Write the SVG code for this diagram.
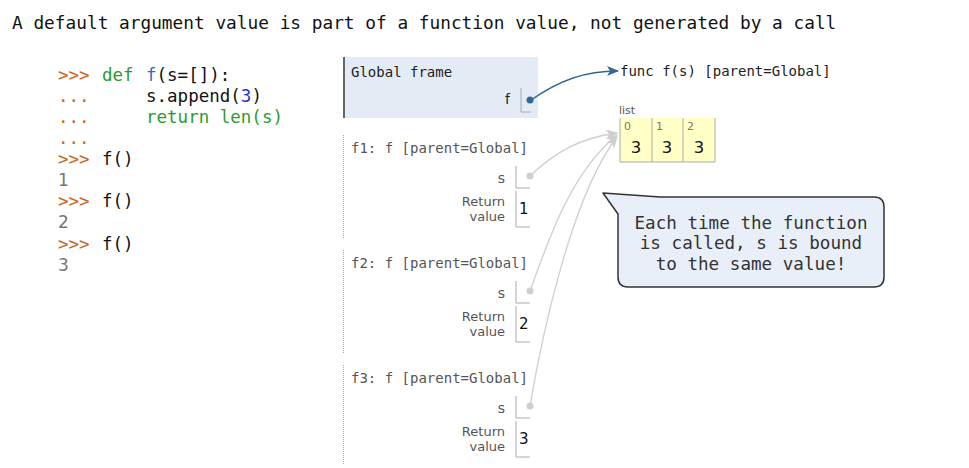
<svg xmlns="http://www.w3.org/2000/svg" width="969" height="468" viewBox="0 0 969 468">
  <style>
    .mono { font-family: "DejaVu Sans Mono", "Liberation Mono", monospace; }
    .sans { font-family: "DejaVu Sans", "Liberation Sans", sans-serif; }
    .title { font-size: 17.8px; fill: #111; }
    .code { font-size: 17.5px; }
    .prompt { fill: #c8651c; }
    .kw { fill: #2d9a2d; }
    .fn { fill: #2a6fc4; }
    .num { fill: #2233dd; }
    .plain { fill: #111; }
    .out { fill: #777; font-family: "DejaVu Sans", "Liberation Sans", sans-serif; font-size: 17px; }
    .flabel { font-size: 14px; fill: #555; }
    .glabel { font-size: 14px; fill: #222; }
    .var { font-size: 14px; fill: #555; text-anchor: end; }
    .ret { font-size: 13px; fill: #555; text-anchor: end; }
    .val { font-size: 15px; fill: #111; }
    .cellbox { stroke: #aaa; stroke-width: 1; fill: none; }
    .dotted { stroke: #aaa; stroke-width: 1; stroke-dasharray: 1 1; }
    .ref { fill: none; stroke: #cfcfcf; stroke-width: 1.3; }
    .note { font-size: 17.6px; fill: #333; text-anchor: middle; }
  </style>
  <defs>
    <marker id="arrowBlue" markerUnits="userSpaceOnUse" markerWidth="12" markerHeight="10" refX="11" refY="5" orient="auto">
      <path d="M0,0 L12,5 L0,10 L3,5 Z" fill="#2f6a96"/>
    </marker>
    <marker id="arrowGray" markerUnits="userSpaceOnUse" markerWidth="12" markerHeight="10" refX="11" refY="5" orient="auto">
      <path d="M0,0 L12,5 L0,10 L3,5 Z" fill="#cfcfcf"/>
    </marker>
  </defs>

  <rect width="969" height="468" fill="#ffffff"/>

  <text class="mono title" x="12" y="29">A default argument value is part of a function value, not generated by a call</text>

  <!-- interactive session -->
  <g id="code" class="mono code">
    <text y="81"><tspan x="58" class="prompt">&gt;&gt;&gt;</tspan><tspan x="102" class="kw">def</tspan><tspan x="146" class="fn">f</tspan><tspan class="plain">(s=[]):</tspan></text>
    <text y="102"><tspan x="58" class="prompt">...</tspan><tspan x="146" class="plain">s.append(</tspan><tspan class="num">3</tspan><tspan class="plain">)</tspan></text>
    <text y="123"><tspan x="58" class="prompt">...</tspan><tspan x="146" class="kw">return len(s)</tspan></text>
    <text y="144"><tspan x="58" class="prompt">...</tspan></text>
    <text y="165"><tspan x="58" class="prompt">&gt;&gt;&gt;</tspan><tspan x="102" class="plain">f()</tspan></text>
    <text y="186" x="58" class="out">1</text>
    <text y="207"><tspan x="58" class="prompt">&gt;&gt;&gt;</tspan><tspan x="102" class="plain">f()</tspan></text>
    <text y="228" x="58" class="out">2</text>
    <text y="250"><tspan x="58" class="prompt">&gt;&gt;&gt;</tspan><tspan x="102" class="plain">f()</tspan></text>
    <text y="271" x="58" class="out">3</text>
  </g>

  <!-- global frame -->
  <g id="global-frame">
    <rect x="343" y="57" width="195" height="61" fill="#e3ebf5"/>
    <line x1="344" y1="57" x2="344" y2="118" stroke="#666" stroke-width="2"/>
    <text class="mono glabel" x="351" y="77">Global frame</text>
    <text class="sans var" x="510" y="104" style="fill:#222">f</text>
    <path d="M521,88 V112 H531" class="cellbox"/>
  </g>

  <!-- function object -->
  <g id="func-f">
    <text class="mono glabel" x="620" y="76">func f(s) [parent=Global]</text>
  </g>

  <!-- list object -->
  <g id="list">
    <text class="sans" x="619" y="114" font-size="11" fill="#555">list</text>
    <rect x="620" y="118" width="95" height="44" fill="#ffffc6"/>
    <path d="M620,118 V162 H715 V118" fill="none" stroke="#aaa" stroke-width="1"/>
    <line x1="652" y1="118" x2="652" y2="162" stroke="#aaa"/>
    <line x1="683" y1="118" x2="683" y2="162" stroke="#aaa"/>
    <g class="sans" font-size="11" fill="#777">
      <text x="624" y="130">0</text>
      <text x="656" y="130">1</text>
      <text x="687" y="130">2</text>
    </g>
    <g class="sans" font-size="16.5" fill="#111" text-anchor="middle">
      <text x="636" y="153">3</text>
      <text x="667" y="153">3</text>
      <text x="699" y="153">3</text>
    </g>
  </g>

  <!-- frame f1 -->
  <g id="frame-f1">
    <line x1="343.5" y1="135" x2="343.5" y2="238" class="dotted"/>
    <text class="mono flabel" x="351" y="153">f1: f [parent=Global]</text>
    <text class="sans var" x="505" y="183">s</text>
    <path d="M516,166 V188 H530" class="cellbox"/>
    <text class="sans ret" x="505" y="206">Return</text>
    <text class="sans ret" x="505" y="221">value</text>
    <path d="M516,191 V227 H530" class="cellbox"/>
    <text class="sans val" x="519" y="214">1</text>
  </g>

  <!-- frame f2 -->
  <g id="frame-f2">
    <line x1="343.5" y1="250" x2="343.5" y2="353" class="dotted"/>
    <text class="mono flabel" x="351" y="268">f2: f [parent=Global]</text>
    <text class="sans var" x="505" y="298">s</text>
    <path d="M516,281 V303 H530" class="cellbox"/>
    <text class="sans ret" x="505" y="321">Return</text>
    <text class="sans ret" x="505" y="336">value</text>
    <path d="M516,306 V342 H530" class="cellbox"/>
    <text class="sans val" x="519" y="329">2</text>
  </g>

  <!-- frame f3 -->
  <g id="frame-f3">
    <line x1="343.5" y1="365" x2="343.5" y2="464" class="dotted"/>
    <text class="mono flabel" x="351" y="383">f3: f [parent=Global]</text>
    <text class="sans var" x="505" y="413">s</text>
    <path d="M516,396 V418 H530" class="cellbox"/>
    <text class="sans ret" x="505" y="436">Return</text>
    <text class="sans ret" x="505" y="451">value</text>
    <path d="M516,421 V457 H530" class="cellbox"/>
    <text class="sans val" x="519" y="444">3</text>
  </g>

  <!-- references -->
  <g id="connectors">
    <path d="M531,100 C560,80 585,71 618,71" fill="none" stroke="#2f6a96" stroke-width="1.5" marker-end="url(#arrowBlue)"/>
    <circle cx="530" cy="100" r="3.5" fill="#2f6a96"/>

    <path class="ref" d="M530,176 C555,152 580,138 617,133" marker-end="url(#arrowGray)"/>
    <path class="ref" d="M530,291 C550,235 572,172 617,135" marker-end="url(#arrowGray)"/>
    <path class="ref" d="M530,406 C542,335 572,195 617,137" marker-end="url(#arrowGray)"/>
    <circle cx="530" cy="176" r="3.5" fill="#cfcfcf"/>
    <circle cx="530" cy="291" r="3.5" fill="#cfcfcf"/>
    <circle cx="530" cy="406" r="3.5" fill="#cfcfcf"/>
  </g>

  <!-- callout -->
  <g id="callout">
    <path d="M603,193 L660,197 L874,197 Q884,197 884,207 L884,277 Q884,287 874,287 L628,287 Q618,287 618,277 L618,214 Z" fill="#e9eff9" stroke="#333" stroke-width="1.5" stroke-linejoin="round"/>
    <text class="mono note" x="751" y="229">Each time the function</text>
    <text class="mono note" x="751" y="249">is called, s is bound</text>
    <text class="mono note" x="751" y="270">to the same value!</text>
  </g>
</svg>
